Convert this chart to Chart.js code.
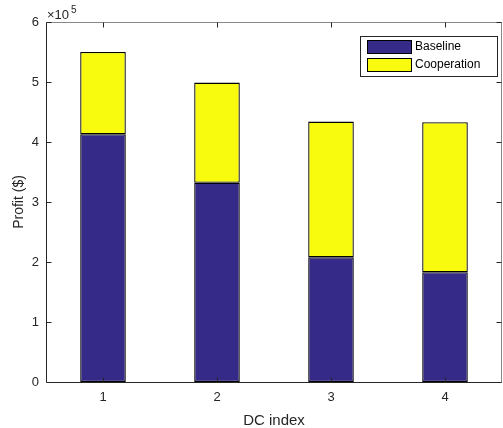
<!DOCTYPE html>
<html>
<head>
<meta charset="utf-8">
<script src="https://cdn.jsdelivr.net/npm/chart.js@4/dist/chart.umd.min.js"></script>
<style>
  html, body { margin: 0; padding: 0; background: #fff; }
  #wrap { width: 503px; height: 428px; }
</style>
</head>
<body>
<div id="wrap"><canvas id="profitChart" width="503" height="428"></canvas></div>
<script>
// datos (x 1e5)
const dcLabels = ['1', '2', '3', '4'];
const baseline = [4.13, 3.32, 2.08, 1.83];
const cooperation = [1.37, 1.67, 2.26, 2.50];   // incremento sobre baseline
const yTicks = [0, 1, 2, 3, 4, 5, 6];

const blue = 'rgb(53, 42, 135)';
const yellow = 'rgb(249, 251, 14)';
const fontName = '"Liberation Sans", Arial, sans-serif';

// ejes tipo matlab: ticks hacia adentro, caja, leyenda y el x10^5
const matlabAxes = {
    id: 'matlabAxes',
    afterDraw(chart) {
        const ctx = chart.ctx;
        const a = chart.chartArea;
        const xs = chart.scales.x;
        const ys = chart.scales.y;
        const L = Math.round(a.left) + 0.5, R = Math.round(a.right) - 0.5;
        const T = Math.round(a.top) + 0.5, B = Math.round(a.bottom) + 0.5;
        ctx.save();
        ctx.lineWidth = 1;

        // caja
        ctx.strokeStyle = '#888';
        ctx.beginPath();
        ctx.moveTo(L, T); ctx.lineTo(R, T); ctx.lineTo(R, B);
        ctx.stroke();
        ctx.strokeStyle = '#262626';
        ctx.beginPath();
        ctx.moveTo(L, T); ctx.lineTo(L, B); ctx.lineTo(R, B);
        ctx.stroke();

        // ticks
        ctx.beginPath();
        yTicks.forEach(v => {
            const y = Math.round(ys.getPixelForValue(v * 1e5)) + 0.5;
            ctx.moveTo(L, y); ctx.lineTo(L + 5, y);
            ctx.moveTo(R, y); ctx.lineTo(R - 5, y);
        });
        dcLabels.forEach((l, i) => {
            const x = Math.round(xs.getPixelForValue(i)) + 0.5;
            ctx.moveTo(x, B); ctx.lineTo(x, B - 5);
            ctx.moveTo(x, T); ctx.lineTo(x, T + 5);
        });
        ctx.strokeStyle = '#262626';
        ctx.stroke();

        // exponente
        ctx.fillStyle = '#262626';
        ctx.textBaseline = 'alphabetic';
        ctx.textAlign = 'left';
        ctx.font = '13px ' + fontName;
        ctx.fillText('\u00d710', 47, 19);
        const w = ctx.measureText('\u00d710').width;
        ctx.font = '10px ' + fontName;
        ctx.fillText('5', 47 + w + 2, 13);

        // leyenda
        const lx = 360, ly = 36, lw = 137, lh = 40;
        ctx.fillStyle = '#fff';
        ctx.fillRect(lx, ly, lw, lh);
        ctx.strokeStyle = '#262626';
        ctx.strokeRect(lx + 0.5, ly + 0.5, lw, lh);
        const items = [['Baseline', blue], ['Cooperation', yellow]];
        ctx.font = '12px ' + fontName;
        ctx.textBaseline = 'middle';
        items.forEach((it, i) => {
            const sy = 40 + i * 18;
            ctx.fillStyle = it[1];
            ctx.fillRect(367, sy, 44, 13);
            ctx.strokeStyle = '#000';
            ctx.strokeRect(367.5, sy + 0.5, 44, 13);
            ctx.fillStyle = '#000';
            ctx.fillText(it[0], 415, sy + 7);
        });
        ctx.restore();
    }
};

const profitChart = new Chart(document.getElementById('profitChart'), {
    type: 'bar',
    data: {
        labels: dcLabels,
        datasets: [{
            label: 'Baseline',
            data: baseline.map(v => v * 1e5),
            backgroundColor: blue,
            borderColor: '#000',
            borderWidth: 1.3,
            borderSkipped: false
        }, {
            label: 'Cooperation',
            data: cooperation.map(v => v * 1e5),
            backgroundColor: yellow,
            borderColor: '#000',
            borderWidth: 1.3,
            borderSkipped: false
        }]
    },
    options: {
        responsive: false,
        animation: false,
        events: [],
        layout: { padding: { top: 22, right: 1, left: 0, bottom: 0 } },
        datasets: {
            bar: { categoryPercentage: 0.4, barPercentage: 1.0 }
        },
        plugins: {
            legend: { display: false },
            tooltip: { enabled: false }
        },
        scales: {
            x: {
                stacked: true,
                offset: true,
                grid: { display: false, drawTicks: false },
                border: { display: false },
                ticks: { color: '#262626', padding: 8, font: { family: fontName, size: 13 } },
                title: {
                    display: true,
                    text: 'DC index',
                    color: '#262626',
                    padding: { top: 0, bottom: -2 },
                    font: { family: fontName, size: 15 }
                },
                afterFit: function (scale) { scale.height = 46; }
            },
            y: {
                stacked: true,
                min: 0,
                max: 600000,
                grid: { display: false, drawTicks: false },
                border: { display: false },
                ticks: {
                    stepSize: 100000,
                    padding: 7,
                    color: '#262626',
                    font: { family: fontName, size: 13 },
                    callback: function (value) { return value / 1e5; }
                },
                title: {
                    display: true,
                    text: 'Profit ($)',
                    color: '#262626',
                    padding: { top: 11, bottom: 0 },
                    font: { family: fontName, size: 14 }
                },
                afterFit: function (scale) { scale.width = 46; }
            }
        }
    },
    plugins: [matlabAxes]
});
</script>
</body>
</html>
